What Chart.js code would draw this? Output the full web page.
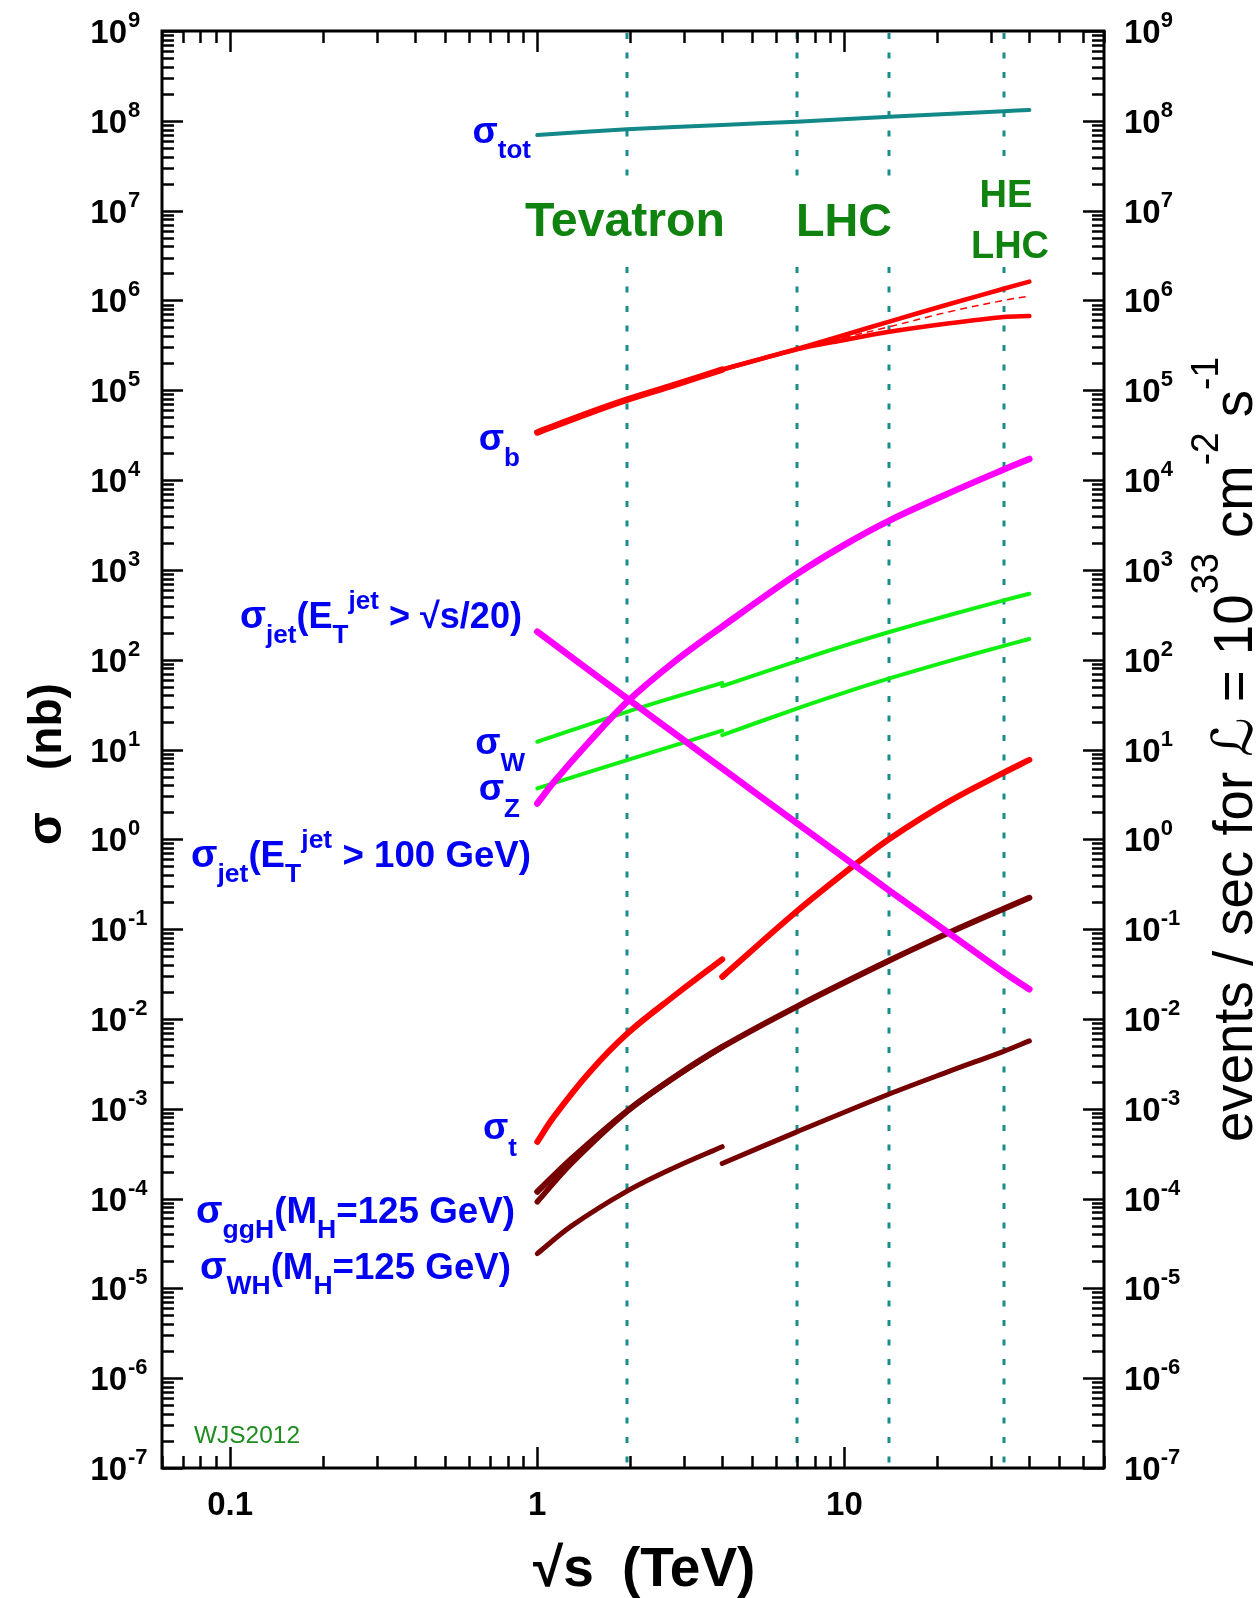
<!DOCTYPE html>
<html>
<head>
<meta charset="utf-8">
<script src="https://cdn.jsdelivr.net/npm/chart.js@4.4.0/dist/chart.umd.min.js"></script>
<style>
html,body{margin:0;padding:0;background:#ffffff;}
canvas{display:block;}
</style>
</head>
<body>
<canvas id="c" width="1258" height="1598"></canvas>
<script>
// ---------------- DATA : sigma (nb) versus sqrt(s) (TeV) ----------------
const xTot   = [1, 1.96, 4, 7, 14, 33, 40];
const sigTot = [6.95e7, 8.04e7, 9.0e7, 9.77e7, 1.11e8, 1.28e8, 1.32e8];

const xBppbar   = [1, 1.47, 1.96, 2.8, 4];
const sigBppbar = [3.39e4, 5.56e4, 7.85e4, 1.148e5, 1.698e5];
const xBpp      = [4, 7, 10, 14, 22, 33, 40];
const sigBupper = [1.698e5, 2.88e5, 4.12e5, 5.82e5, 9.12e5, 1.35e6, 1.62e6];
const sigBlower = [1.698e5, 2.85e5, 3.63e5, 4.47e5, 5.56e5, 6.53e5, 6.7e5];
const xBmid     = [7, 10, 14, 22, 33, 40];
const sigBmid   = [2.85e5, 3.86e5, 5.09e5, 7.5e5, 1.0e6, 1.12e6];

const xJet100   = [1, 1.13, 1.47, 1.96, 2.8, 4, 7, 10, 14, 22, 33, 40];
const sigJet100 = [2.5, 4.3, 12.0, 33.9, 95.5, 234, 897, 1900, 3540, 7200, 13100, 17200];

const xJetS20   = [1, 1.96, 3, 4, 7, 11, 14, 22, 33, 40];
const sigJetS20 = [205, 37.1, 12.7, 6.17, 1.51, 0.49, 0.269, 0.0891, 0.0331, 0.0214];

const xVppbar   = [1, 1.96, 4];
const sigWppbar = [12.2, 26.3, 55.3];
const sigZppbar = [3.69, 7.62, 16.2];
const xVpp      = [4, 7, 10, 14, 22, 33, 40];
const sigWpp    = [50.8, 96.6, 143.2, 203.2, 314.8, 457, 543];
const sigZpp    = [14.45, 28.6, 43.0, 61.8, 97.0, 142.6, 170.2];

const xTppbar   = [1, 1.13, 1.47, 1.96, 2.8, 4];
const sigTppbar = [4.28e-4, 8.07e-4, 2.49e-3, 6.84e-3, 0.01824, 0.0461];
const xTpp      = [4, 7, 11, 14, 22, 33, 40];
const sigTpp    = [0.0294, 0.158, 0.546, 1.01, 2.66, 5.52, 7.66];

const xGGH        = [1, 1.29, 1.96, 2.8, 4, 7, 14, 22, 33, 40];
const sigGGH      = [1.19e-4, 2.76e-4, 9.44e-4, 2.26e-3, 4.88e-3, 0.01374, 0.0447, 0.092, 0.169, 0.2234];
const xGGHppbar   = [1, 1.29, 1.96, 2.8, 4];
const sigGGHppbar = [9.2e-5, 2.45e-4, 9.3e-4, 2.24e-3, 4.88e-3];

const xWHppbar   = [1, 1.29, 1.96, 2.8, 4];
const sigWHppbar = [2.44e-5, 4.93e-5, 1.21e-4, 2.22e-4, 3.78e-4];
const xWHpp      = [4, 7, 14, 22, 33, 40];
const sigWHpp    = [2.46e-4, 5.53e-4, 1.46e-3, 2.62e-3, 4.36e-3, 5.70e-3];

const colliderEnergies = [1.96, 7, 14, 33];

const yExponents  = ['-7','-6','-5','-4','-3','-2','-1','0','1','2','3','4','5','6','7','8','9'];
const xTickValues = [0.1, 1, 10];
const xTickLabels = ['0.1', '1', '10'];

// ---------------- helpers ----------------
const FONT = '"Liberation Sans", "Helvetica", "DejaVu Sans", Arial, sans-serif';
function pts(xs, ys) { return xs.map((v, i) => ({ x: v, y: ys[i] })); }
function fontOf(p, o) {
  const bold = (p.bold !== undefined) ? p.bold : (o.bold !== false);
  return (p.italic ? 'italic ' : '') + (bold ? 'bold ' : '') + p.s + 'px ' + FONT;
}
function drawRich(ctx, parts, x, y, o) {
  o = o || {};
  ctx.save();
  ctx.translate(x, y);
  if (o.rotate) ctx.rotate(-Math.PI / 2);
  let w = 0;
  const ws = parts.map(p => { ctx.font = fontOf(p, o); const m = ctx.measureText(p.t).width; w += m + (p.gap || 0); return m; });
  const sx = o.width ? o.width / w : 1;
  ctx.scale(sx, 1);
  let cx = o.align === 'right' ? -w : (o.align === 'center' ? -w / 2 : 0);
  ctx.textAlign = 'left';
  ctx.textBaseline = 'alphabetic';
  parts.forEach((p, i) => {
    ctx.font = fontOf(p, o);
    ctx.fillStyle = p.color || o.color || '#000';
    ctx.fillText(p.t, cx, p.dy || 0);
    cx += ws[i] + (p.gap || 0);
  });
  ctx.restore();
}

const BLUE = '#0000f5';
const GREENTXT = '#0f820f';
const TEAL = '#128888';

// ---------------- decoration plugin ----------------
const decor = {
  id: 'decor',
  beforeDatasetsDraw(chart) {
    const { ctx, chartArea: a, scales: { x } } = chart;
    ctx.save();
    ctx.strokeStyle = '#1a8c8c';
    ctx.lineWidth = 3;
    ctx.setLineDash([6, 13.5]);
    colliderEnergies.forEach(v => {
      const px = Math.round(x.getPixelForValue(v));
      ctx.beginPath(); ctx.moveTo(px, a.top + 2); ctx.lineTo(px, a.bottom); ctx.stroke();
    });
    ctx.setLineDash([]);
    ctx.fillStyle = '#ffffff';
    ctx.fillRect(520, 182, 210, 75);
    ctx.fillRect(785, 187, 115, 73);
    ctx.fillRect(960, 165, 100, 102);
    ctx.restore();
    drawRich(ctx, [{ t: 'Tevatron', s: 48 }], 525, 236, { color: GREENTXT, width: 200 });
    drawRich(ctx, [{ t: 'LHC', s: 47 }], 796, 236, { color: GREENTXT, width: 96 });
    drawRich(ctx, [{ t: 'HE', s: 38 }], 1006, 207, { color: GREENTXT, align: 'center' });
    drawRich(ctx, [{ t: 'LHC', s: 38 }], 1010, 258, { color: GREENTXT, align: 'center' });
  },
  afterDraw(chart) {
    const { ctx, chartArea: a, scales: { x, y } } = chart;
    ctx.save();
    ctx.strokeStyle = '#000';
    ctx.lineWidth = 2.5;
    ctx.setLineDash([]);
    const seg = (x1, y1, x2, y2) => { ctx.beginPath(); ctx.moveTo(x1, y1); ctx.lineTo(x2, y2); ctx.stroke(); };
    for (let e = -7; e <= 9; e++) {
      for (let m = 1; m <= 9; m++) {
        const v = m * Math.pow(10, e);
        if (v > 1.0001e9) break;
        const py = Math.round(y.getPixelForValue(v)) + 0.5;
        const len = m === 1 ? 21 : 12;
        seg(a.left, py, a.left + len, py);
        seg(a.right, py, a.right - len, py);
      }
    }
    for (let e = -2; e <= 1; e++) {
      for (let m = 1; m <= 9; m++) {
        const v = m * Math.pow(10, e);
        if (v < 0.0599 || v > 70.01) continue;
        const px = Math.round(x.getPixelForValue(v)) + 0.5;
        const len = m === 1 ? 21 : 12;
        seg(px, a.bottom, px, a.bottom - len);
        seg(px, a.top, px, a.top + len);
      }
    }
    ctx.lineWidth = 3;
    ctx.strokeRect(a.left, a.top, a.right - a.left, a.bottom - a.top);
    ctx.restore();

    yExponents.forEach(ex => {
      const py = y.getPixelForValue(Math.pow(10, Number(ex)));
      const base = py + 12;
      drawRich(ctx, [{ t: '10', s: 33 }], 127, base, { align: 'right' });
      drawRich(ctx, [{ t: ex, s: 22 }], 128, base - 16, {});
      drawRich(ctx, [{ t: '10', s: 33 }, { t: ex, s: 22, dy: -16 }], 1124, base, {});
    });
    xTickValues.forEach((v, i) => {
      drawRich(ctx, [{ t: xTickLabels[i], s: 33 }], x.getPixelForValue(v), 1515, { align: 'center' });
    });

    drawRich(ctx, [{ t: 'σ', s: 48 }], 61, 845, { rotate: true });
    drawRich(ctx, [{ t: '(nb)', s: 46 }], 61, 770, { rotate: true });
    drawRich(ctx, [{ t: '√s', s: 55 }], 533, 1586, {});
    drawRich(ctx, [{ t: '(TeV)', s: 55 }], 622, 1586, {});
    drawRich(ctx, [
      { t: 'events / sec for ', s: 56 },
      { t: 'ℒ', s: 56, italic: true },
      { t: ' = 10', s: 56 },
      { t: '33', s: 38, dy: -34 },
      { t: ' cm', s: 56 },
      { t: '-2', s: 38, dy: -34 },
      { t: ' s', s: 56 },
      { t: '-1', s: 38, dy: -34 }
    ], 1252, 1142, { rotate: true, bold: false, width: 785, color: '#000' });

    const L = (parts, xr, base, w) => drawRich(ctx, parts, xr, base, { align: 'right', color: BLUE, width: w });
    L([{ t: 'σ', s: 37 }, { t: 'tot', s: 26, dy: 15 }], 531, 143);
    L([{ t: 'σ', s: 37 }, { t: 'b', s: 26, dy: 16 }], 520, 450);
    L([{ t: 'σ', s: 38 }, { t: 'jet', s: 26, dy: 15 }, { t: '(E', s: 36 }, { t: 'T', s: 26, dy: 15 },
       { t: 'jet', s: 26, dy: -19 }, { t: ' > √s/20)', s: 36 }], 522, 628, 282);
    L([{ t: 'σ', s: 37 }, { t: 'W', s: 26, dy: 17 }], 525, 754);
    L([{ t: 'σ', s: 37 }, { t: 'Z', s: 26, dy: 17 }], 520, 800);
    L([{ t: 'σ', s: 38 }, { t: 'jet', s: 26, dy: 15 }, { t: '(E', s: 36 }, { t: 'T', s: 26, dy: 15 },
       { t: 'jet', s: 26, dy: -19 }, { t: ' > 100 GeV)', s: 36 }], 531, 867, 340);
    L([{ t: 'σ', s: 37 }, { t: 't', s: 26, dy: 17 }], 517, 1139);
    L([{ t: 'σ', s: 38 }, { t: 'ggH', s: 26, dy: 15 }, { t: '(M', s: 36 }, { t: 'H', s: 26, dy: 15 },
       { t: '=125 GeV)', s: 36 }], 515, 1223, 319);
    L([{ t: 'σ', s: 38 }, { t: 'WH', s: 26, dy: 15 }, { t: '(M', s: 36 }, { t: 'H', s: 26, dy: 15 },
       { t: '=125 GeV)', s: 36 }], 511, 1279, 311);

    drawRich(ctx, [{ t: 'WJS2012', s: 23 }], 194, 1443, { bold: false, color: '#1e8c1e', width: 106 });
  }
};

// ---------------- datasets ----------------
function ds(xs, ys, color, width, extra) {
  return Object.assign({
    data: pts(xs, ys), borderColor: color, borderWidth: width, pointRadius: 0,
    fill: false, tension: 0.35, borderCapStyle: 'round', borderJoinStyle: 'round'
  }, extra || {});
}
const RED = '#ff0000', MAG = '#ff00ff', GRN = '#10f010', DRED = '#760000';
const datasets = [
  ds(xTot, sigTot, TEAL, 4),
  ds(xBppbar, sigBppbar, RED, 6.5),
  ds(xBpp, sigBupper, RED, 4.5),
  ds(xBpp, sigBlower, RED, 4.5),
  ds(xBmid, sigBmid, RED, 1.5, { borderDash: [7, 5], borderCapStyle: 'butt' }),
  ds(xJet100, sigJet100, MAG, 6.5),
  ds(xJetS20, sigJetS20, MAG, 6.5),
  ds(xVppbar, sigWppbar, GRN, 4),
  ds(xVpp, sigWpp, GRN, 4),
  ds(xVppbar, sigZppbar, GRN, 4),
  ds(xVpp, sigZpp, GRN, 4),
  ds(xTppbar, sigTppbar, RED, 6),
  ds(xTpp, sigTpp, RED, 6),
  ds(xGGHppbar, sigGGHppbar, DRED, 5.5),
  ds(xGGH, sigGGH, DRED, 6),
  ds(xWHppbar, sigWHppbar, DRED, 5),
  ds(xWHpp, sigWHpp, DRED, 5)
];

new Chart(document.getElementById('c').getContext('2d'), {
  type: 'line',
  data: { datasets },
  options: {
    responsive: false,
    animation: false,
    devicePixelRatio: 1,
    layout: { padding: { left: 162, top: 31, right: 154, bottom: 130 } },
    plugins: { legend: { display: false }, tooltip: { enabled: false } },
    scales: {
      x: { type: 'logarithmic', min: 0.06, max: 70, display: false },
      y: { type: 'logarithmic', min: 1e-7, max: 1e9, display: false }
    }
  },
  plugins: [decor]
});
</script>
</body>
</html>
